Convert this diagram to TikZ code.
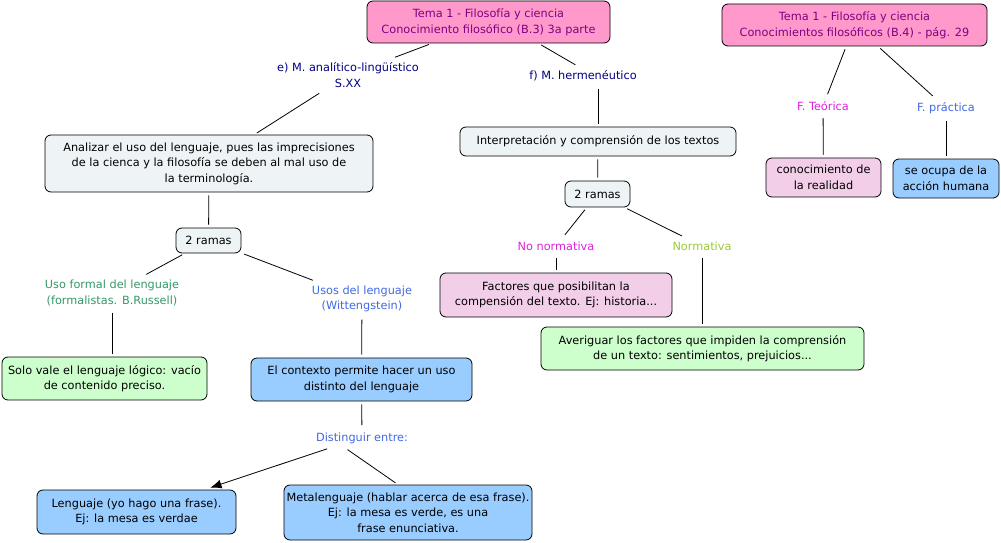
\documentclass[tikz,border=0pt]{standalone}
\usepackage{fontspec}
\setmainfont{DejaVu Sans}
\usepackage{tikz}
\usetikzlibrary{arrows.meta}

\definecolor{tpink}{RGB}{255,153,204}
\definecolor{tpurple}{RGB}{128,0,128}
\definecolor{lgray}{RGB}{238,244,246}
\definecolor{lgreen}{RGB}{204,255,204}
\definecolor{lblue}{RGB}{153,204,255}
\definecolor{lpink}{RGB}{242,206,232}
\definecolor{navytxt}{RGB}{0,0,128}
\definecolor{greentxt}{RGB}{51,153,102}
\definecolor{bluetxt}{RGB}{65,105,225}
\definecolor{magtxt}{RGB}{221,34,221}
\definecolor{limetxt}{RGB}{153,204,51}

\begin{document}
\begin{tikzpicture}[x=1pt,y=-1pt,line width=0.8pt,
  font=\fontsize{11.3}{15.5}\selectfont,
  box/.style={draw, rounded corners=6pt, align=center, inner sep=0pt},
  lbl/.style={align=center, inner sep=4pt},
  con/.style={shorten <=3pt, shorten >=3pt}]
\useasboundingbox (0,0) rectangle (1001,543);

% titles
\node[box, fill=tpink, text=tpurple, minimum width=243, minimum height=42] (tema3) at (488.5,22) {Tema 1 - Filosofía y ciencia\\Conocimiento filosófico (B.3) 3a parte};
\node[box, fill=tpink, text=tpurple, minimum width=265, minimum height=42] (tema4) at (854.5,25) {Tema 1 - Filosofía y ciencia\\Conocimientos filosóficos (B.4) - pág. 29};

% left branch
\node[lbl, text=navytxt] (analit) at (348,75) {e) M. analítico-lingüístico\\S.XX};
\node[box, fill=lgray, minimum width=328, minimum height=57] (analizar) at (209,163.5) {Analizar el uso del lenguaje, pues las imprecisiones\\de la cienca y la filosofía se deben al mal uso de\\la terminología.};
\node[box, fill=lgray, minimum width=65, minimum height=25] (ramas1) at (208.5,240.5) {2 ramas};
\node[lbl, text=greentxt] (formal) at (112,293) {Uso formal del lenguaje\\(formalistas. B.Russell)};
\node[lbl, text=bluetxt] (usos) at (362,299) {Usos del lenguaje\\(Wittengstein)};
\node[box, fill=lgreen, minimum width=205, minimum height=43] (solo) at (104.5,378.5) {Solo vale el lenguaje lógico: vacío\\de contenido preciso.};
\node[box, fill=lblue, minimum width=221, minimum height=43] (contexto) at (361.5,379.5) {El contexto permite hacer un uso\\distinto del lenguaje};
\node[lbl, text=bluetxt] (disting) at (362,438) {Distinguir entre:};
\node[box, fill=lblue, minimum width=199, minimum height=44] (lengua) at (136.5,512) {Lenguaje (yo hago una frase).\\Ej: la mesa es verdae};
\node[box, fill=lblue, minimum width=248, minimum height=55] (meta) at (408,512.5) {Metalenguaje (hablar acerca de esa frase).\\Ej: la mesa es verde, es una\\frase enunciativa.};

% middle branch
\node[lbl, text=navytxt] (herme) at (583,76) {f) M. hermenéutico};
\node[box, fill=lgray, minimum width=276, minimum height=29] (interp) at (598,141.5) {Interpretación y comprensión de los textos};
\node[box, fill=lgray, minimum width=65, minimum height=26] (ramas2) at (597.5,194) {2 ramas};
\node[lbl, text=magtxt] (nonorm) at (556,246) {No normativa};
\node[lbl, text=limetxt] (norm) at (702,246) {Normativa};
\node[box, fill=lpink, minimum width=232, minimum height=44] (factores) at (556,295) {Factores que posibilitan la\\compensión del texto. Ej: historia...};
\node[box, fill=lgreen, minimum width=323, minimum height=43] (averig) at (702.5,348.5) {Averiguar los factores que impiden la comprensión\\de un texto: sentimientos, prejuicios...};

% right branch
\node[lbl, text=magtxt] (teorica) at (823,106) {F. Teórica};
\node[lbl, text=bluetxt] (practica) at (946,108) {F. práctica};
\node[box, fill=lpink, minimum width=115, minimum height=39] (conoc) at (823.5,177.5) {conocimiento de\\la realidad};
\node[box, fill=lblue, minimum width=106, minimum height=39] (ocupa) at (946,178.5) {se ocupa de la\\acción humana};

% connectors
\draw[con] (tema3) -- (analit);
\draw[con] (analit) -- (analizar);
\draw[con] (analizar) -- (ramas1);
\draw[con] (ramas1) -- (formal);
\draw[con] (ramas1) -- (usos);
\draw[con] (formal.south) -- (formal.south |- solo.north);
\draw[con] (usos) -- (contexto);
\draw[con] (contexto) -- (disting);
\draw[-{Latex[length=11pt,width=9pt]}, shorten <=3pt] ([xshift=-32pt]disting.south) -- ([xshift=74pt,yshift=2pt]lengua.north);
\draw[con] ([xshift=-17pt]disting.south) -- ([xshift=-10pt]meta.north);

\draw[con] ([xshift=50pt]tema3.south) -- ([xshift=-5pt]herme.north);
\draw[con] (interp.north |- herme.south) -- (interp.north);
\draw[con] (interp) -- (ramas2);
\draw[con] (ramas2) -- (nonorm);
\draw[con] (ramas2) -- (norm);
\draw[con] (nonorm) -- (factores);
\draw[con] (norm) -- (averig.north -| norm);

\draw[con] (tema4) -- (teorica);
\draw[con] (tema4) -- (practica);
\draw[con] (teorica) -- (conoc);
\draw[con] (practica) -- (ocupa);
\end{tikzpicture}
\end{document}
